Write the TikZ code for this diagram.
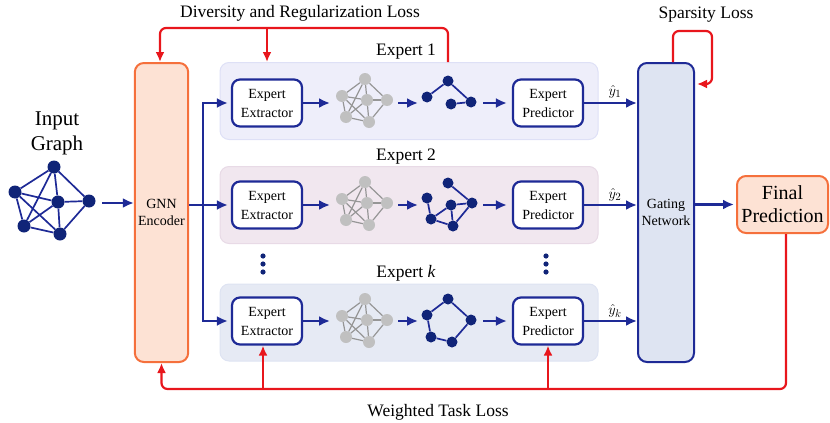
\documentclass[tikz,border=0pt]{standalone}
\usepackage{fontspec}
\setmainfont{Liberation Serif}
\usetikzlibrary{arrows.meta}
\definecolor{dblue}{RGB}{30,42,150}
\definecolor{nblue}{RGB}{16,36,120}
\definecolor{lossred}{RGB}{232,22,28}
\definecolor{encfill}{RGB}{253,226,212}
\definecolor{encdraw}{RGB}{245,112,60}
\definecolor{gatefill}{RGB}{222,228,242}
\definecolor{pafill}{RGB}{238,238,250}
\definecolor{padraw}{RGB}{222,224,246}
\definecolor{pbfill}{RGB}{241,231,239}
\definecolor{pbdraw}{RGB}{232,218,230}
\definecolor{pkfill}{RGB}{230,234,244}
\definecolor{pkdraw}{RGB}{222,227,242}
\definecolor{gfill}{RGB}{192,192,192}
\definecolor{gline}{RGB}{150,150,150}
\newcommand{\mygray}[2]{%
\begin{scope}[shift={(0,#2)}]
\node[gnode] (#1t) at (365,79) {};
\node[gnode] (#1l) at (342,96) {};
\node[gnode] (#1c) at (367,100) {};
\node[gnode] (#1r) at (387,100) {};
\node[gnode] (#1a) at (346,117) {};
\node[gnode] (#1b) at (369,122) {};
\end{scope}
\foreach \u/\v in {t/l,t/c,t/r,t/a,l/c,l/a,l/b,c/r,c/b,c/a,r/b,a/b} \draw[gedge] (#1\u) -- (#1\v);
}
\begin{document}
\begin{tikzpicture}[x=1pt,y=-1pt,
  panel/.style={draw, line width=1pt, rounded corners=9pt, minimum width=378pt, minimum height=77pt},
  encbox/.style={draw=encdraw, fill=encfill, line width=2pt, rounded corners=9pt, align=center, font=\fontsize{14}{17}\selectfont},
  gatebox/.style={draw=dblue, fill=gatefill, line width=2pt, rounded corners=9pt, align=center, font=\fontsize{14}{17}\selectfont},
  ebox/.style={draw=dblue, fill=white, line width=2.2pt, rounded corners=8pt, minimum width=70pt, minimum height=47pt, align=center, font=\fontsize{14}{19}\selectfont, inner sep=1pt},
  gnode/.style={circle, fill=gfill, inner sep=0pt, minimum size=12pt},
  gedge/.style={draw=gline, line width=1.2pt},
  bnode/.style={circle, fill=nblue, inner sep=0pt, minimum size=11pt},
  bedge/.style={draw=dblue, line width=1.7pt},
  inode/.style={circle, fill=nblue, inner sep=0pt, minimum size=13pt},
  barrow/.style={draw=dblue, line width=2.5pt, -{Latex[length=11pt,width=10pt]}},
  bline/.style={draw=dblue, line width=2.5pt},
  rarrow/.style={draw=lossred, line width=2.2pt, -{Latex[length=10pt,width=9pt]}},
  lbl/.style={font=\fontsize{17.5}{20}\selectfont},
  yl/.style={font=\fontsize{15}{17}\selectfont}
]
\useasboundingbox (0,0) rectangle (830,423);

% panels
\node[panel, draw=padraw, fill=pafill] (p1) at (409,101) {};
\node[panel, draw=pbdraw, fill=pbfill] (p2) at (409,205) {};
\node[panel, draw=pkdraw, fill=pkfill] (pk) at (409,322.5) {};

% titles
\node[lbl] (t1) at (406,52) {Expert 1};
\node[lbl] (t2) at (406,157) {Expert 2};
\node[lbl] (tk) at (406,273) {Expert \textit{k}};
\node[lbl] (tdiv) at (300,13) {Diversity and Regularization Loss};
\node[lbl] (tsp) at (706,15) {Sparsity Loss};
\node[lbl] (twt) at (438,412) {Weighted Task Loss};

% input graph
\node[font=\fontsize{21}{25}\selectfont, align=center] (tin) at (57,133) {Input\\Graph};
\node[inode] (iT) at (54,167) {};
\node[inode] (iL) at (15,192) {};
\node[inode] (iC) at (58,202) {};
\node[inode] (iR) at (89,201) {};
\node[inode] (iA) at (24,226) {};
\node[inode] (iB) at (60,234) {};
\foreach \u/\v in {T/L,T/C,T/R,T/A,L/C,L/A,L/B,C/R,C/B,C/A,R/B,A/B} \draw[bedge] (i\u) -- (i\v);

% encoder and gating
\node[encbox, minimum width=51pt, minimum height=299pt] (enc) at (161.5,212.5) {GNN\\Encoder};
\node[gatebox, minimum width=56pt, minimum height=299pt] (gate) at (666,212.5) {Gating\\Network};
\node[draw=encdraw, fill=encfill, line width=2pt, rounded corners=9pt, minimum width=91pt, minimum height=57pt, align=center, font=\fontsize{20}{23}\selectfont] (final) at (782.5,204.5) {Final\\Prediction};

% extractor / predictor boxes
\node[ebox] (ext1) at (267,103) {Expert\\Extractor};
\node[ebox] (ext2) at (267,205) {Expert\\Extractor};
\node[ebox] (extk) at (267,321) {Expert\\Extractor};
\node[ebox] (pre1) at (548,103) {Expert\\Predictor};
\node[ebox] (pre2) at (548,205) {Expert\\Predictor};
\node[ebox] (prek) at (548,321) {Expert\\Predictor};

% gray graphs
\mygray{ga}{0}
\mygray{gb}{103}
\mygray{gk}{220}

% blue graphs: expert 1
\node[bnode] (ba1) at (427,97) {};
\node[bnode] (ba2) at (448,81) {};
\node[bnode] (ba3) at (471,102) {};
\node[bnode] (ba4) at (451,104) {};
\foreach \u/\v in {1/2,2/3,4/3} \draw[bedge] (ba\u) -- (ba\v);
% expert 2
\node[bnode] (bb1) at (427,198) {};
\node[bnode] (bb2) at (448,183) {};
\node[bnode] (bb3) at (472,203) {};
\node[bnode] (bb4) at (451,205) {};
\node[bnode] (bb5) at (431,219) {};
\node[bnode] (bb6) at (453,226) {};
\foreach \u/\v in {1/5,2/3,3/4,3/6,4/5,4/6,5/6} \draw[bedge] (bb\u) -- (bb\v);
% expert k
\node[bnode] (bk1) at (427,315) {};
\node[bnode] (bk2) at (448,299) {};
\node[bnode] (bk3) at (471,320) {};
\node[bnode] (bk4) at (431,337) {};
\node[bnode] (bk5) at (452,342) {};
\foreach \u/\v in {1/2,2/3,3/5,5/4,4/1} \draw[bedge] (bk\u) -- (bk\v);

% input arrow
\coordinate (inS) at (102,203);
\draw[barrow] (inS) -- (enc.west |- inS);

% distribution
\coordinate (sp) at (203,205);
\draw[bline] (enc.east |- sp) -- (sp);
\draw[barrow, shorten >=3pt] (sp) -- (ext2.west);
\draw[barrow, shorten >=3pt] (sp) |- (ext1.west);
\draw[barrow, shorten >=3pt] (sp) |- (extk.west);

% row arrows
\foreach \r/\y in {1/103,2/205,k/321}{
  \coordinate (a\r) at (330,\y);
  \coordinate (b\r) at (398,\y);
  \coordinate (c\r) at (418,\y);
  \coordinate (d\r) at (483,\y);
}
\draw[barrow] (ext1.east) -- (a1);
\draw[barrow] (ext2.east) -- (a2);
\draw[barrow] (extk.east) -- (ak);
\draw[barrow] (b1) -- (c1);
\draw[barrow] (b2) -- (c2);
\draw[barrow] (bk) -- (ck);
\draw[barrow, shorten >=5pt] (d1) -- (pre1.west);
\draw[barrow, shorten >=5pt] (d2) -- (pre2.west);
\draw[barrow, shorten >=5pt] (dk) -- (prek.west);

% predictor -> gating
\draw[barrow] (pre1.east) -- (gate.west |- pre1);
\draw[barrow] (pre2.east) -- (gate.west |- pre2);
\draw[barrow] (prek.east) -- (gate.west |- prek);
\node[yl] (y1) at (615,92) {$\hat{y}_1$};
\node[yl] (y2) at (615,195) {$\hat{y}_2$};
\node[yl] (yk) at (615,311) {$\hat{y}_k$};

% gating -> final
\draw[barrow, shorten >=2pt] (gate.east |- final) -- (final.west);

% dots
\foreach \x/\n in {263/l,546/r}{
  \foreach \yy [count=\i] in {256,264,272} \fill[nblue] (\x,\yy) circle (2.6pt);
}

% diversity loss
\coordinate (dvtop) at (448,28);
\draw[rarrow, rounded corners=6pt] ([xshift=39pt]p1.north) -- (dvtop) -| ([xshift=-1.5pt]enc.north);
\draw[rarrow] (dvtop -| ext1) -- (p1.north -| ext1);

% sparsity loss
\draw[rarrow, rounded corners=6pt, shorten >=2pt] ([xshift=7pt]gate.north) -- ++(0,-31) -- ++(39,0) |- ([yshift=-22pt]gate.north east);

% weighted task loss
\coordinate (wl) at (500,389);
\draw[rarrow, rounded corners=6pt] ([xshift=3.5pt]final.south) |- (wl) -| (enc.south);
\draw[rarrow] ([xshift=-4pt]extk.south |- wl) -- ([xshift=-4pt]extk.south);
\draw[rarrow] (prek.south |- wl) -- (prek.south);
\end{tikzpicture}
\end{document}
